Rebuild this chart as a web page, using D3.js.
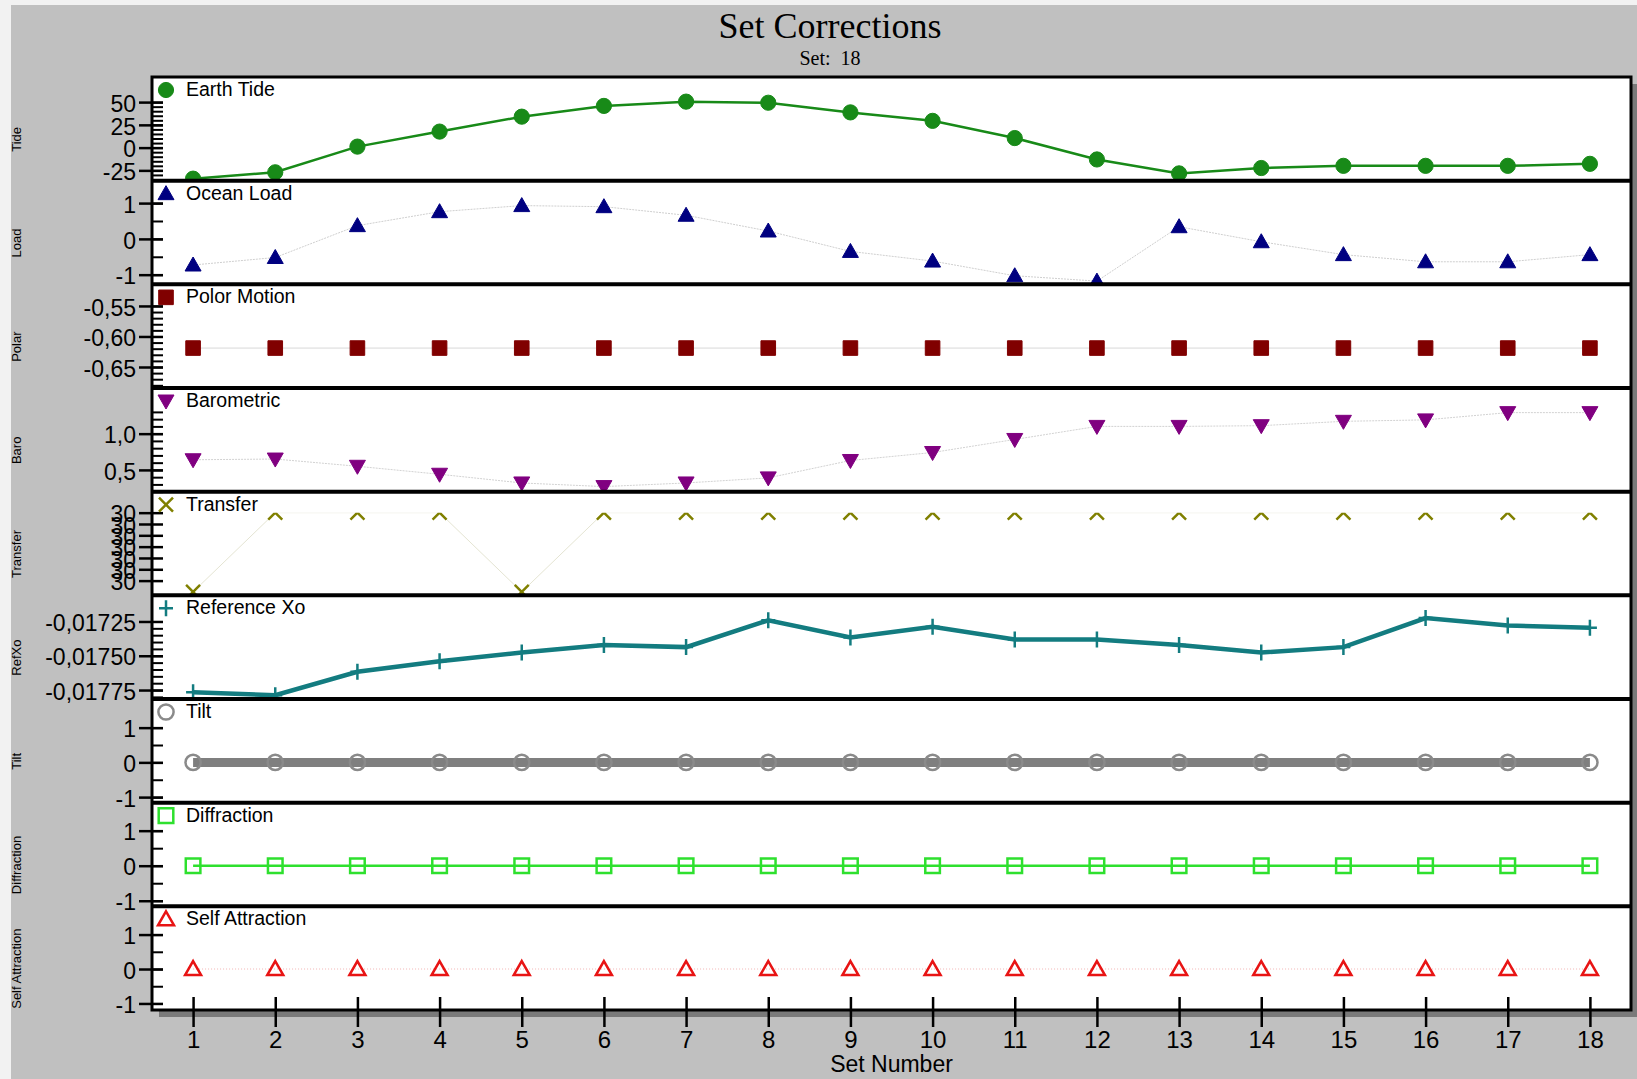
<!DOCTYPE html>
<html>
<head>
<meta charset="utf-8">
<script src="https://d3js.org/d3.v7.min.js"></script>
<style>
  body { margin: 0; background: #f2f2f2; }
  svg { display: block; }
</style>
</head>
<body>
<div id="SetCorrections"></div>
<script>
// Set Corrections chart - nine stacked panels sharing one set-number axis

//////////////////////////////////////////////////////////////////////
// data

var setNumbers = [1, 2, 3, 4, 5, 6, 7, 8, 9, 10, 11, 12, 13, 14, 15, 16, 17, 18];

var earthTide = [-34.1, -27.1, 1.1, 17.6, 34.0, 45.8, 50.5, 49.3, 38.7,
                 29.4, 10.5, -13.0, -28.3, -22.4, -20.0, -20.0, -20.0, -17.8];

var oceanLoad = [-0.73, -0.52, 0.37, 0.76, 0.93, 0.90, 0.66, 0.22, -0.35,
                 -0.62, -1.03, -1.18, 0.34, -0.08, -0.44, -0.64, -0.64, -0.44];

var polarMotion = [-0.619, -0.619, -0.619, -0.619, -0.619, -0.619, -0.619, -0.619, -0.619,
                   -0.619, -0.619, -0.619, -0.619, -0.619, -0.619, -0.619, -0.619, -0.619];

var barometric = [0.64, 0.65, 0.55, 0.44, 0.32, 0.27, 0.32, 0.39, 0.63,
                  0.74, 0.92, 1.10, 1.10, 1.11, 1.17, 1.19, 1.29, 1.29];

var transfer = [29.9993, 30.0000, 30.0000, 30.0000, 29.9993, 30.0000, 30.0000, 30.0000, 30.0000,
                30.0000, 30.0000, 30.0000, 30.0000, 30.0000, 30.0000, 30.0000, 30.0000, 30.0000];

var referenceXo = [-0.017766, -0.017788, -0.017617, -0.017540, -0.017476, -0.017421,
                   -0.017437, -0.017241, -0.017366, -0.017288, -0.017382, -0.017382,
                   -0.017421, -0.017476, -0.017437, -0.017225, -0.017280, -0.017296];

var tilt = [0, 0, 0, 0, 0, 0, 0, 0, 0, 0, 0, 0, 0, 0, 0, 0, 0, 0];
var diffraction = [0, 0, 0, 0, 0, 0, 0, 0, 0, 0, 0, 0, 0, 0, 0, 0, 0, 0];
var selfAttraction = [0, 0, 0, 0, 0, 0, 0, 0, 0, 0, 0, 0, 0, 0, 0, 0, 0, 0];

// tick labels of each panel
var earthTicks = [-25, 0, 25, 50];
var oceanTicks = [-1, 0, 1];
var polarTicks = [-0.65, -0.60, -0.55];
var baroTicks = [0.5, 1.0];
var transferTicks = [29.9994, 29.9995, 29.9996, 29.9997, 29.9998, 29.9999, 30.0000];
var refTicks = [-0.01775, -0.01750, -0.01725];
var unitTicks = [-1, 0, 1];

//////////////////////////////////////////////////////////////////////
// namespace for layout values

var myNS = {};
myNS.width = 1637;
myNS.height = 1079;
myNS.left = 152;       // plot box edges
myNS.right = 1631;
myNS.top = 77;
myNS.bottom = 1010;
myNS.panelPad = 21;    // room for the legend above each y axis

// decimal comma, plain hyphen for minus
myNS.locale = d3.formatLocale({
    decimal: ",", thousands: ".", grouping: [3], currency: ["", ""], minus: "-"
});

// one row per panel, built from the arrays above
myNS.panels = [
    { name: "Earth Tide", title: "Tide", values: earthTide, domain: [-36.3, 54.5],
      ticks: earthTicks, minor: 5, fmt: "d", marker: "circle", color: "#188a18",
      fill: true, lineColor: "#188a18", lineWidth: 2.5 },
    { name: "Ocean Load", title: "Load", values: oceanLoad, domain: [-1.27, 1.04],
      ticks: oceanTicks, minor: 0.5, fmt: "d", marker: "triangle", color: "#000080",
      fill: true, lineColor: "#cfcfcf", lineWidth: 1, dash: "2,1" },
    { name: "Polor Motion", title: "Polar", values: polarMotion, domain: [-0.6844, -0.549],
      ticks: polarTicks, minor: 0.01, fmt: ".2f", marker: "square", color: "#800000",
      fill: true, lineColor: "#d8d8d8", lineWidth: 1 },
    { name: "Barometric", title: "Baro", values: barometric, domain: [0.2, 1.34],
      ticks: baroTicks, minor: 0.1, fmt: ".1f", marker: "triangleDown", color: "#800080",
      fill: true, lineColor: "#d2d2d2", lineWidth: 1, dash: "2,1" },
    { name: "Transfer", title: "Transfer", values: transfer, domain: [29.99927, 30.0000],
      ticks: transferTicks, minor: 0, fmt: ".0f", marker: "times", color: "#808000",
      fill: false, lineColor: "#e4e4d2", lineWidth: 1, clipAxis: true },
    { name: "Reference Xo", title: "RefXo", values: referenceXo, domain: [-0.0178153, -0.0172125],
      ticks: refTicks, minor: 0.00005, fmt: ".5f", marker: "plus", color: "#137c80",
      fill: false, lineColor: "#137c80", lineWidth: 4.5 },
    { name: "Tilt", title: "Tilt", values: tilt, domain: [-1.16, 1.22],
      ticks: unitTicks, minor: 0.5, fmt: "d", marker: "circle", color: "#8a8a8a",
      fill: false, lineColor: "#7f7f7f", lineWidth: 9 },
    { name: "Diffraction", title: "Diffraction", values: diffraction, domain: [-1.16, 1.2],
      ticks: unitTicks, minor: 0.5, fmt: "d", marker: "square", color: "#2ee02e",
      fill: false, lineColor: "#2ee02e", lineWidth: 2.5 },
    { name: "Self Attraction", title: "Self Attraction", values: selfAttraction, domain: [-1.19, 1.21],
      ticks: unitTicks, minor: 0.5, fmt: "d", marker: "triangle", color: "#e81414",
      fill: false, lineColor: "#f2b4b4", lineWidth: 1, dash: "1,2" }
];

myNS.panelHeight = (myNS.bottom - myNS.top) / myNS.panels.length;


//////////////////////////////////////////////////////////////////////
// draw everything

var createSetChart = function () {

    var svg = d3.select("#SetCorrections")
        .append("svg")
        .attr("width", myNS.width)
        .attr("height", myNS.height);

    makeBackground(svg);
    createXScale();

    myNS.panels.forEach(function (p, i) {
        makePanel(svg, p, i);
    });

    makeFrame(svg);
    makeXAxis(svg);

}; // end createSetChart


// grey window, title and the white plot box with its shadow
function makeBackground(svg) {

    svg.append("rect")
        .attr("x", 11).attr("y", 5)
        .attr("width", myNS.width - 11).attr("height", myNS.height - 5)
        .attr("fill", "#c0c0c0");

    svg.append("text")
        .attr("x", 830).attr("y", 38)
        .attr("text-anchor", "middle")
        .attr("font-family", "Liberation Serif, Times New Roman, serif")
        .attr("font-size", "36px")
        .text("Set Corrections");

    svg.append("text")
        .attr("x", 830).attr("y", 65)
        .attr("text-anchor", "middle")
        .attr("font-family", "Liberation Serif, Times New Roman, serif")
        .attr("font-size", "20px")
        .style("white-space", "pre")
        .text("Set:  18");

    // drop shadow
    svg.append("rect")
        .attr("x", myNS.left + 7).attr("y", myNS.top + 7)
        .attr("width", myNS.right - myNS.left).attr("height", myNS.bottom - myNS.top)
        .attr("fill", "#7a7a7a");

    svg.append("rect")
        .attr("x", myNS.left).attr("y", myNS.top)
        .attr("width", myNS.right - myNS.left).attr("height", myNS.bottom - myNS.top)
        .attr("fill", "white");

} // end makeBackground


// shared x scale
function createXScale() {
    myNS.xScale = d3.scaleLinear()
        .domain([0.5, 18.5])
        .range([myNS.left, myNS.right]);
}


// marker shapes, centred on 0,0
function markerPath(type) {
    switch (type) {
    case "circle":
        return d3.symbol(d3.symbolCircle, Math.PI * 7.6 * 7.6)();
    case "square":
        return "M-7.3,-7.3h14.6v14.6h-14.6Z";
    case "triangle":
        return "M0,-8L8,6L-8,6Z";
    case "triangleDown":
        return "M0,8L8,-6L-8,-6Z";
    case "times":
        return "M-7,-7L7,7M7,-7L-7,7";
    case "plus":
        return "M-7,0H7M0,-8V8";
    }
}

function styleMarker(sel, p) {
    var open = (p.marker == "times" || p.marker == "plus");
    sel.attr("d", markerPath(p.marker))
        .attr("fill", (p.fill && !open) ? p.color : "none")
        .attr("stroke", p.color)
        .attr("stroke-width", p.fill ? 1 : 2.5)
        .attr("stroke-linejoin", "miter");
}


// one stacked panel: line, markers, y axis, legend and axis title
function makePanel(svg, p, i) {

    var top = myNS.top + i * myNS.panelHeight;
    var bottom = top + myNS.panelHeight;
    var axisTop = top + myNS.panelPad;

    var yScale = d3.scaleLinear()
        .domain(p.domain)
        .range([bottom, axisTop]);

    var pts = setNumbers.map(function (s, k) {
        return { set: s, value: p.values[k] };
    });

    // clip to the panel (Transfer is clipped at its axis top)
    var clipId = "clip" + i;
    svg.append("clipPath")
        .attr("id", clipId)
        .append("rect")
        .attr("x", myNS.left)
        .attr("y", p.clipAxis ? axisTop : top)
        .attr("width", myNS.right - myNS.left)
        .attr("height", bottom - (p.clipAxis ? axisTop : top));

    var g = svg.append("g").attr("clip-path", "url(#" + clipId + ")");

    var line = d3.line()
        .x(function (d) { return myNS.xScale(d.set); })
        .y(function (d) { return yScale(d.value); });

    g.append("path")
        .datum(pts)
        .attr("d", line)
        .attr("fill", "none")
        .attr("stroke", p.lineColor)
        .attr("stroke-width", p.lineWidth)
        .attr("stroke-dasharray", p.dash || null);

    g.selectAll(".marker")
        .data(pts)
        .enter()
        .append("path")
        .attr("class", "marker")
        .attr("transform", function (d) {
            return "translate(" + myNS.xScale(d.set) + "," + yScale(d.value) + ")";
        })
        .call(styleMarker, p);

    // minor ticks, inside the box only
    if (p.minor > 0) {
        var k0 = Math.ceil(p.domain[0] / p.minor - 1e-6);
        var k1 = Math.floor(p.domain[1] / p.minor + 1e-6);
        var minorVals = d3.range(k0, k1 + 1).map(function (k) { return k * p.minor; });
        var minorAxis = d3.axisLeft(yScale)
            .tickValues(minorVals)
            .tickSize(11)
            .tickFormat("");
        svg.append("g")
            .attr("class", "minor")
            .attr("transform", "translate(" + (myNS.left + 11) + ",0)")
            .call(minorAxis)
            .call(function (a) { a.select(".domain").remove(); })
            .selectAll("line")
            .attr("stroke", "black")
            .attr("stroke-width", 2);
    }

    // major ticks cross the box edge
    var majorAxis = d3.axisLeft(yScale)
        .tickValues(p.ticks)
        .tickSize(24)
        .tickPadding(3)
        .tickFormat(myNS.locale.format(p.fmt));

    var ax = svg.append("g")
        .attr("class", "y axis")
        .attr("transform", "translate(" + (myNS.left + 11) + ",0)")
        .call(majorAxis);

    ax.select(".domain").remove();
    ax.selectAll("line")
        .attr("stroke", "black")
        .attr("stroke-width", 2.5);
    ax.selectAll("text")
        .attr("dy", "0.4em")
        .attr("fill", "black")
        .attr("font-family", "Liberation Sans, Arial, sans-serif")
        .attr("font-size", "23px");

    // legend entry in the top left corner
    svg.append("path")
        .attr("transform", "translate(166," + (top + 13) + ")")
        .call(styleMarker, p);

    svg.append("text")
        .attr("x", 186)
        .attr("y", top + 19)
        .attr("font-family", "Liberation Sans, Arial, sans-serif")
        .attr("font-size", "19.5px")
        .text(p.name);

    // rotated axis title, centred on the axis range
    svg.append("text")
        .attr("text-anchor", "middle")
        .attr("transform", "translate(16," + ((axisTop + bottom) / 2) + ") rotate(-90)")
        .attr("dy", "0.35em")
        .attr("font-family", "Liberation Sans, Arial, sans-serif")
        .attr("font-size", "13px")
        .text(p.title);

} // end makePanel


// box outline and the thick separators between panels
function makeFrame(svg) {

    d3.range(1, myNS.panels.length).forEach(function (i) {
        var y = myNS.top + i * myNS.panelHeight;
        svg.append("line")
            .attr("x1", myNS.left).attr("x2", myNS.right)
            .attr("y1", y).attr("y2", y)
            .attr("stroke", "black")
            .attr("stroke-width", 4);
    });

    svg.append("rect")
        .attr("x", myNS.left).attr("y", myNS.top)
        .attr("width", myNS.right - myNS.left).attr("height", myNS.bottom - myNS.top)
        .attr("fill", "none")
        .attr("stroke", "black")
        .attr("stroke-width", 3);

} // end makeFrame


// set number axis along the bottom
function makeXAxis(svg) {

    var xAxis = d3.axisBottom(myNS.xScale)
        .tickValues(setNumbers)
        .tickSize(30)
        .tickPadding(4)
        .tickFormat(d3.format("d"));

    var ax = svg.append("g")
        .attr("class", "x axis")
        .attr("transform", "translate(0," + (myNS.bottom - 13) + ")")
        .call(xAxis);

    ax.select(".domain").remove();
    ax.selectAll("line")
        .attr("stroke", "black")
        .attr("stroke-width", 2.5);
    ax.selectAll("text")
        .attr("fill", "black")
        .attr("font-family", "Liberation Sans, Arial, sans-serif")
        .attr("font-size", "24px");

    svg.append("text")
        .attr("x", (myNS.left + myNS.right) / 2)
        .attr("y", 1072)
        .attr("text-anchor", "middle")
        .attr("font-family", "Liberation Sans, Arial, sans-serif")
        .attr("font-size", "23px")
        .text("Set Number");

} // end makeXAxis

createSetChart();
</script>
</body>
</html>
